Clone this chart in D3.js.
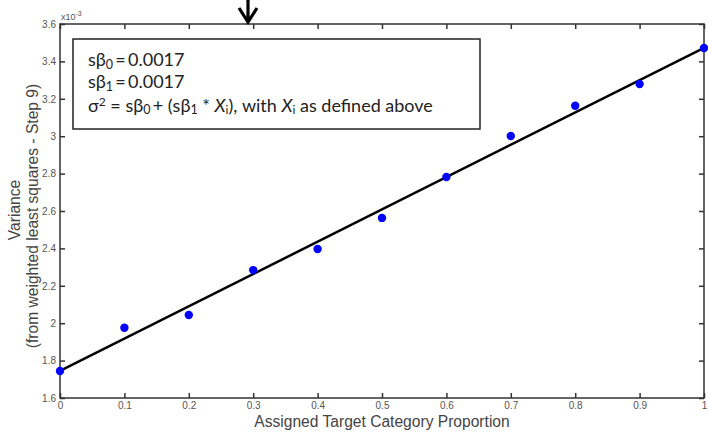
<!DOCTYPE html>
<html><head><meta charset="utf-8">
<script src="https://cdn.jsdelivr.net/npm/d3@7"></script>
<style>body{margin:0;background:#fff}svg{display:block}</style>
</head><body>
<svg id="c" width="708" height="442"></svg>
<script>
const proportions = [0,0.1,0.2,0.3,0.4,0.5,0.6,0.7,0.8,0.9,1.0];
const variances = [1.744,1.976,2.044,2.284,2.397,2.563,2.782,3.001,3.163,3.279,3.472];
const fitX = [0, 1];
const fitY = [1.745, 3.472];
const xTicks = [0,0.1,0.2,0.3,0.4,0.5,0.6,0.7,0.8,0.9,1];
const yTicks = [1.6,1.8,2,2.2,2.4,2.6,2.8,3,3.2,3.4,3.6];
const xLabel = "Assigned Target Category Proportion";
const yLabel1 = "Variance";
const yLabel2 = "(from weighted least squares - Step 9)";

const svg = d3.select("#c");
const L=60, R=704, T=24, B=398;
const x = d3.scaleLinear().domain([0,1]).range([L,R]);
const y = d3.scaleLinear().domain([1.6,3.6]).range([B,T]);
const axCol="#333";
const tickFont="Liberation Sans, Arial, sans-serif";

const fmt = d => String(+d.toFixed(1));
const gx = svg.append("g").attr("transform",`translate(0,${B})`)
  .call(d3.axisBottom(x).tickValues(xTicks).tickFormat(fmt).tickSizeInner(-5).tickSizeOuter(0).tickPadding(6));
const gxt = svg.append("g").attr("transform",`translate(0,${T})`)
  .call(d3.axisTop(x).tickValues(xTicks).tickFormat("").tickSizeInner(-5).tickSizeOuter(0));
const gy = svg.append("g").attr("transform",`translate(${L},0)`)
  .call(d3.axisLeft(y).tickValues(yTicks).tickFormat(fmt).tickSizeInner(-5).tickSizeOuter(0).tickPadding(4));
const gyr = svg.append("g").attr("transform",`translate(${R},0)`)
  .call(d3.axisRight(y).tickValues(yTicks).tickFormat("").tickSizeInner(-5).tickSizeOuter(0));
[gx,gxt,gy,gyr].forEach(g=>{
  g.select(".domain").remove();
  g.selectAll(".tick line").attr("stroke",axCol).attr("stroke-width",1.5);
  g.selectAll("text").attr("font-family",tickFont).attr("font-size",10).attr("fill","#555");
});
gx.selectAll("text").attr("dy","0.5em");

svg.append("rect").attr("x",L).attr("y",T).attr("width",R-L).attr("height",B-T)
  .attr("fill","none").attr("stroke",axCol).attr("stroke-width",1.5);

const ex = svg.append("text").attr("x",L+1).attr("y",T-4).attr("font-family",tickFont)
  .attr("font-size",9).attr("fill","#555").text("x10");
ex.append("tspan").attr("dy",-4).attr("font-size",7).text("-3");

svg.append("line").attr("x1",x(fitX[0])).attr("y1",y(fitY[0])).attr("x2",x(fitX[1])).attr("y2",y(fitY[1]))
  .attr("stroke","#000").attr("stroke-width",2.5);

svg.append("g").selectAll("circle").data(proportions).join("circle")
  .attr("cx",d=>x(d)).attr("cy",(d,i)=>y(variances[i])).attr("r",4.2).attr("fill","#0000ff");

const labFs = 15.6;
svg.append("text").attr("x",(L+R)/2).attr("y",427).attr("text-anchor","middle")
  .attr("font-family",tickFont).attr("font-size",labFs).attr("fill","#444").text(xLabel);
svg.append("text").attr("transform",`translate(20,210) rotate(-90)`).attr("text-anchor","middle")
  .attr("font-family",tickFont).attr("font-size",labFs).attr("fill","#444").text(yLabel1);
svg.append("text").attr("transform",`translate(38,216) rotate(-90)`).attr("text-anchor","middle")
  .attr("font-family",tickFont).attr("font-size",labFs).attr("fill","#444").text(yLabel2);

svg.append("rect").attr("x",73).attr("y",39).attr("width",407).attr("height",90)
  .attr("fill","#fff").attr("stroke","#222").attr("stroke-width",1.5);
const af = "Lato, 'Open Sans', sans-serif";
const fs = 18, sub = 12.5;
const t1 = svg.append("text").attr("x",88).attr("y",66).attr("font-family",af).attr("font-size",fs).attr("fill","#222");
t1.append("tspan").text("sβ");
t1.append("tspan").attr("dy",2.5).attr("font-size",sub).text("0");
t1.append("tspan").attr("dy",-2.5).text("\u2009=\u20090.0017");
const t2 = svg.append("text").attr("x",88).attr("y",88).attr("font-family",af).attr("font-size",fs).attr("fill","#222");
t2.append("tspan").text("sβ");
t2.append("tspan").attr("dy",2.5).attr("font-size",sub).text("1");
t2.append("tspan").attr("dy",-2.5).text("\u2009=\u20090.0017");
const t3 = svg.append("text").attr("x",88).attr("y",111.5).attr("font-family",af).attr("font-size",fs).attr("fill","#222");
t3.append("tspan").text("σ");
t3.append("tspan").attr("dy",-6).attr("font-size",12).text("2");
t3.append("tspan").attr("dy",6).text(" = sβ");
t3.append("tspan").attr("dy",2.5).attr("font-size",sub).text("0");
t3.append("tspan").attr("dy",-2.5).text("\u2009+ (sβ");
t3.append("tspan").attr("dy",2.5).attr("font-size",sub).text("1");
t3.append("tspan").attr("dy",-2.5).text(" * ");
t3.append("tspan").attr("font-style","italic").text("X");
t3.append("tspan").attr("dy",2.5).attr("font-size",12).text("i");
t3.append("tspan").attr("dy",-2.5).text("), with ");
t3.append("tspan").attr("font-style","italic").text("X");
t3.append("tspan").attr("dy",2.5).attr("font-size",12).text("i");
t3.append("tspan").attr("dy",-2.5).text(" as defined above");

svg.append("path").attr("d","M248,0 L248,22 M239,8 L248,22 L257,8")
  .attr("fill","none").attr("stroke","#000").attr("stroke-width",3.2).attr("stroke-linejoin","miter");
</script>
</body></html>
